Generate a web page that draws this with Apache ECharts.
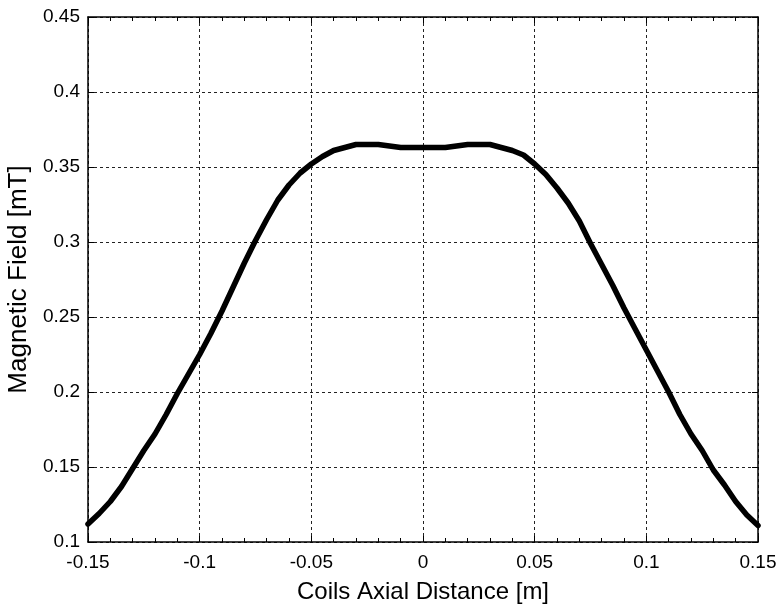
<!DOCTYPE html>
<html>
<head>
<meta charset="utf-8">
<script src="https://cdn.jsdelivr.net/npm/echarts@6/dist/echarts.min.js"></script>
<style>html,body{margin:0;padding:0;background:#fff}#c{width:781px;height:605px}</style>
</head>
<body>
<div id="c"></div>
<script>
var distance = [-0.150,-0.145,-0.140,-0.135,-0.130,-0.125,-0.120,-0.115,-0.110,-0.105,-0.100,-0.095,-0.090,-0.085,-0.080,-0.075,-0.070,-0.065,-0.060,-0.055,-0.050,-0.045,-0.040,-0.035,-0.030,-0.025,-0.020,-0.015,-0.010,-0.005,0.000,0.005,0.010,0.015,0.020,0.025,0.030,0.035,0.040,0.045,0.050,0.055,0.060,0.065,0.070,0.075,0.080,0.085,0.090,0.095,0.100,0.105,0.110,0.115,0.120,0.125,0.130,0.135,0.140,0.145,0.150];
var field = [0.112,0.119,0.127,0.137,0.149,0.161,0.172,0.185,0.199,0.212,0.225,0.239,0.254,0.270,0.286,0.301,0.315,0.328,0.338,0.346,0.352,0.357,0.361,0.363,0.365,0.365,0.365,0.364,0.363,0.363,0.363,0.363,0.363,0.364,0.365,0.365,0.365,0.363,0.361,0.358,0.352,0.345,0.336,0.326,0.314,0.299,0.285,0.271,0.256,0.242,0.228,0.214,0.200,0.185,0.172,0.161,0.148,0.138,0.127,0.118,0.111];
var xTitle = 'Coils Axial Distance [m]';
var yTitle = 'Magnetic Field [mT]';

var pts = distance.map(function(d,i){return [d, field[i]];});
var fmt = function(v){ return String(parseFloat(v.toFixed(2))); };
var font = 'Arial, "Liberation Sans", Helvetica, sans-serif';
var gridLine = {show:true, lineStyle:{color:'#222', width:1, type:[3,3]}};
var axisLine = {show:true, onZero:false, lineStyle:{color:'#000', width:1.5}};

var chart = echarts.init(document.getElementById('c'), null, {renderer:'canvas'});
chart.setOption({
  animation:false,
  backgroundColor:'#fff',
  grid:{left:88, right:23, top:17, bottom:63, containLabel:false, outerBoundsMode:'none'},
  xAxis:[{
    type:'value', min:-0.15, max:0.15, interval:0.05,
    position:'bottom',
    name:xTitle, nameLocation:'middle', nameGap:38,
    nameTextStyle:{fontSize:24, color:'#000', fontFamily:font},
    axisLine:axisLine,
    axisTick:{show:true, inside:true, length:6, lineStyle:{color:'#000'}},
    minorTick:{show:true, splitNumber:5, length:4, lineStyle:{color:'#000'}},
    axisLabel:{fontSize:19, color:'#000', fontFamily:font, margin:11, formatter:fmt},
    splitLine:gridLine
  },{
    type:'value', min:-0.15, max:0.15, interval:0.05,
    position:'top',
    axisLine:axisLine,
    axisTick:{show:true, inside:true, length:6, lineStyle:{color:'#000'}},
    minorTick:{show:true, splitNumber:5, length:4, lineStyle:{color:'#000'}},
    axisLabel:{show:false},
    splitLine:{show:false}
  }],
  yAxis:[{
    type:'value', min:0.1, max:0.45, interval:0.05,
    position:'left',
    name:yTitle, nameLocation:'middle', nameGap:55,
    nameTextStyle:{fontSize:26, color:'#000', fontFamily:font},
    axisLine:axisLine,
    axisTick:{show:true, inside:true, length:6, lineStyle:{color:'#000'}},
    axisLabel:{fontSize:19, color:'#000', fontFamily:font, margin:8, formatter:fmt},
    splitLine:gridLine
  },{
    type:'value', min:0.1, max:0.45, interval:0.05,
    position:'right',
    axisLine:axisLine,
    axisTick:{show:true, inside:true, length:6, lineStyle:{color:'#000'}},
    axisLabel:{show:false},
    splitLine:{show:false}
  }],
  series:[{
    type:'line', xAxisIndex:0, yAxisIndex:0,
    data:pts, showSymbol:false, smooth:false,
    lineStyle:{color:'#000', width:5.5, join:'round', cap:'round'}
  }]
});
</script>
</body>
</html>
